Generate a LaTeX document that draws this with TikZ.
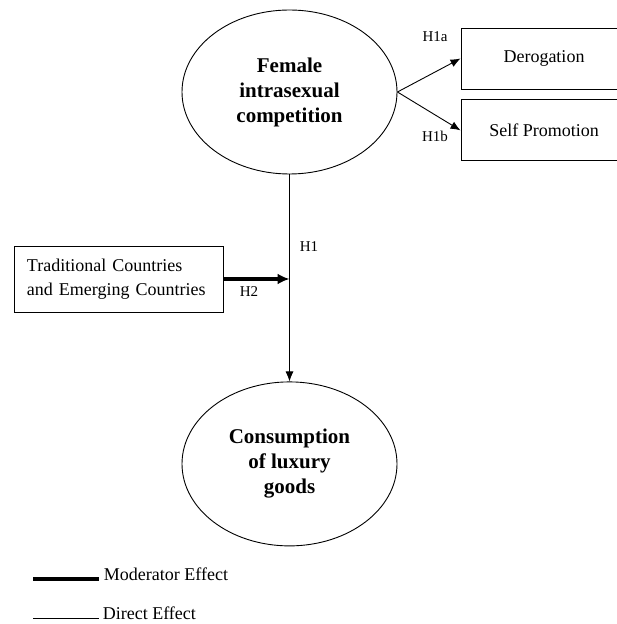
\documentclass[tikz,border=0pt]{standalone}
\usepackage{fontspec}
\setmainfont{Liberation Serif}
\usepackage{tikz}
\usetikzlibrary{shapes.geometric,arrows,arrows.meta,positioning}
\tikzstyle{latent} = [ellipse, draw=black, line width=0.9pt, minimum width=215pt, minimum height=164pt, inner sep=0pt, align=center, font=\fontsize{21}{25}\selectfont\bfseries]
\tikzstyle{outcome} = [rectangle, draw=black, line width=0.9pt, minimum width=166pt, minimum height=61pt, font=\fontsize{18}{24}\selectfont]
\tikzstyle{moderator} = [rectangle, draw=black, line width=0.9pt, minimum width=209pt, minimum height=66pt, text width=183pt, align=left, font=\fontsize{18}{24}\selectfont]
\tikzstyle{hyp} = [font=\fontsize{15}{18}\selectfont]
\tikzstyle{legend} = [font=\fontsize{18}{22}\selectfont, right, yshift=5pt]
\tikzstyle{arrow} = [line width=0.9pt,-{Latex[length=10pt,width=8pt]}]
\tikzstyle{thickarrow} = [line width=3.2pt,-{Latex[length=12pt,width=11pt]}]
\tikzstyle{thinline} = [line width=0.9pt]
\tikzstyle{thickline} = [line width=3.2pt]

\begin{document}
\begin{tikzpicture}[x=1pt,y=1pt]
\useasboundingbox (0,0) rectangle (617,624);
\node (fic) [latent] at (289.5,532) {Female\\intrasexual\\competition};
\node (clg) [latent, below=207pt of fic] {Consumption\\of luxury\\goods};
\node (derog) [outcome] at (544,565.5) {Derogation};
\node (selfpro) [outcome, below=10pt of derog] {Self Promotion};
\node (tcec) [moderator] at (118.5,345) {Traditional Countries\\and Emerging Countries};
\coordinate (joint) at (fic.south |- tcec.east);
% direct effects
\draw[arrow] (fic.east) -- (derog.west);
\draw[arrow] (fic.east) -- (selfpro.west);
\draw[arrow] (fic.south) -- (clg.north);
% moderator effect
\draw[thickarrow] (tcec.east) -- (joint);
\node (h1a) [hyp] at (435,587) {H1a};
\node (h1b) [hyp] at (435,488) {H1b};
\node (h1) [hyp] at (309,377) {H1};
\node (h2) [hyp] at (249,332) {H2};
% legend
\coordinate (mod1) at (33,45);
\coordinate (mod2) at (99,45);
\coordinate (dir1) at (33,6);
\coordinate (dir2) at (99,6);
\draw[thickline] (mod1) -- (mod2) node (modtext) [legend] {Moderator Effect};
\draw[thinline] (dir1) -- (dir2) node (dirtext) [legend] {Direct Effect};
\end{tikzpicture}
\end{document}
